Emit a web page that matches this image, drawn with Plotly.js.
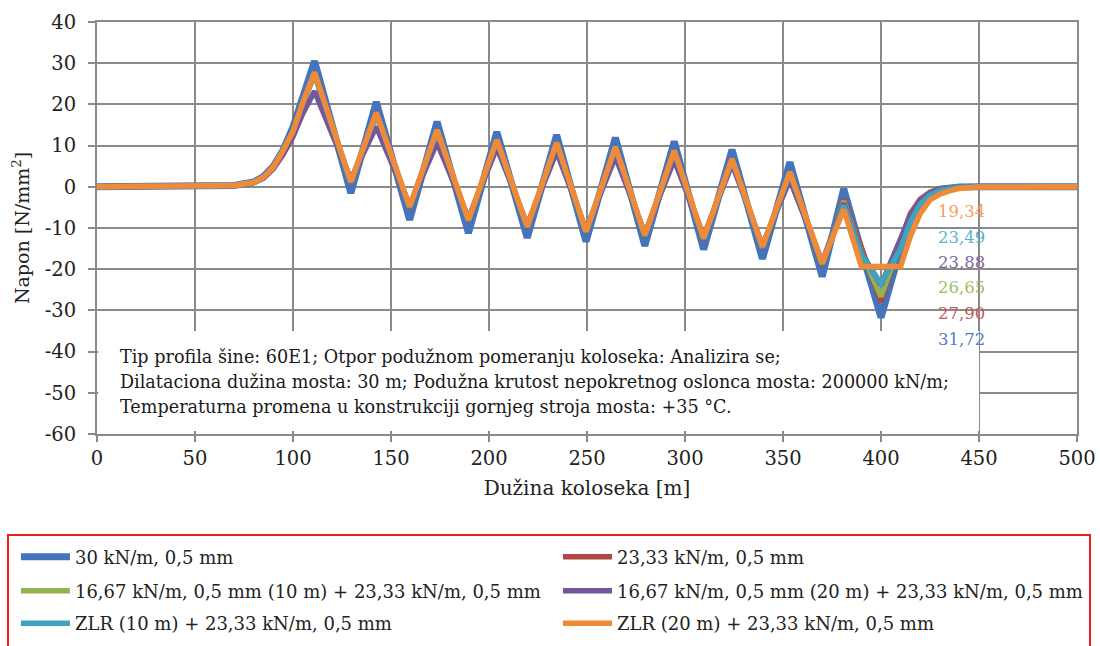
<!DOCTYPE html>
<html>
<head>
<meta charset="utf-8">
<script src="https://cdn.plot.ly/plotly-3.0.1.min.js"></script>
<style>html,body{margin:0;padding:0;background:#fff;}#chart{width:1100px;height:646px;}</style>
</head>
<body>
<div id="chart"></div>
<script>
// Shared longitudinal positions (m)
const xPos = [0, 60, 70, 80, 85, 90, 95, 100, 105, 111,
  129.5, 142.5, 159.5, 173.5, 189.5, 204, 219.5, 234.5, 249.5, 264.5,
  279.5, 294.5, 309.5, 324, 339.5, 353.5, 370, 381, 390, 400,
  410, 415, 420, 425, 430, 435, 440, 450, 500];

// Stress values (N/mm2) per series
const s30 = [0, 0, 0.3, 1.2, 2.5, 5, 9, 14.5, 22, 30.5,
  -1.5, 20.6, -8, 15.8, -11.2, 13.3, -12.4, 12.6, -13.3, 11.9,
  -14.3, 11, -15.2, 9, -17.5, 6, -21.8, -0.5, -15.5, -31.72,
  -15, -8, -3.8, -1.6, -0.6, -0.2, -0.05, 0, 0];
const s2333 = [0, 0, 0.3, 1.1, 2.3, 4.8, 8.7, 13.3, 20.2, 27.3,
  1.0, 17.6, -5.2, 13.4, -8.4, 11.0, -10.0, 10.2, -11.2, 9.3,
  -12.1, 8.3, -12.9, 6.5, -15.0, 3.3, -19.2, -3, -15.2, -27.90,
  -13, -6.5, -3, -1.3, -0.5, -0.2, -0.05, 0, 0];
const s1667_10 = [0, 0, 0.3, 1.1, 2.3, 4.8, 8.7, 13.3, 20.2, 27.2,
  1.3, 17.4, -4.9, 13.2, -8.1, 10.8, -9.7, 10.0, -10.9, 9.1,
  -11.8, 8.1, -12.5, 6.3, -14.6, 3.1, -18.8, -3.5, -15.8, -26.65,
  -13.5, -7, -3.3, -1.5, -0.6, -0.2, -0.05, 0, 0];
const s1667_20 = [0, 0, 0.3, 1.0, 2.1, 4.4, 7.9, 12.2, 17.8, 23.2,
  1.8, 14.6, -4.5, 10.7, -7.6, 9.5, -9.2, 8.5, -10.4, 7.3,
  -11.3, 6.5, -12, 5.5, -14.2, 1.7, -18.3, -4, -16, -23.88,
  -13, -7, -3.3, -1.5, -0.6, -0.2, -0.05, 0, 0];
const sZLR10 = [0, 0, 0.3, 1.1, 2.3, 4.8, 8.8, 13.4, 20.4, 27.6,
  1.1, 17.8, -5, 13.6, -8.2, 11.2, -9.8, 10.5, -11, 9.5,
  -11.9, 8.6, -12.6, 6.6, -14.8, 3.4, -18.7, -4.5, -16.5, -23.49,
  -15, -8.5, -4.2, -2, -0.9, -0.4, -0.1, 0, 0];
const sZLR20 = [0, 0, 0.3, 1.1, 2.3, 4.8, 8.8, 13.5, 20.5, 27.8,
  1.2, 18, -4.8, 13.8, -8, 11.4, -9.6, 10.7, -10.8, 9.7,
  -11.7, 8.8, -12.4, 6.8, -14.5, 3.6, -18.5, -5.5, -19.34, -19.34,
  -19.34, -12, -6.5, -3.2, -1.8, -1, -0.4, -0.05, 0];

const seriesNames = ['30 kN/m, 0,5 mm', '23,33 kN/m, 0,5 mm',
  '16,67 kN/m, 0,5 mm (10 m) + 23,33 kN/m, 0,5 mm',
  '16,67 kN/m, 0,5 mm (20 m) + 23,33 kN/m, 0,5 mm',
  'ZLR (10 m) + 23,33 kN/m, 0,5 mm', 'ZLR (20 m) + 23,33 kN/m, 0,5 mm'];
const seriesValues = [s30, s2333, s1667_10, s1667_20, sZLR10, sZLR20];
const seriesColors = ['#4474BB', '#B04744', '#93B150', '#73579A', '#3FA3BF', '#F08A36'];

// Minimum value labels (right side)
const minLabels = ['19,34', '23,49', '23,88', '26,65', '27,90', '31,72'];
const minLabelY = [-6.1, -12.4, -18.4, -24.5, -30.8, -37.1];
const minLabelColors = ['#F3A064', '#5FB2CB', '#7E67A3', '#9DBE62', '#C05A57', '#4F7FC0'];

const yTickVals = [-60, -50, -40, -30, -20, -10, 0, 10, 20, 30, 40];
const yTickText = ['-60', '-50', '-40', '-30', '-20', '-10', '0', '10', '20', '30', '40'];
const xTickVals = [0, 50, 100, 150, 200, 250, 300, 350, 400, 450, 500];
const xTickText = ['0', '50', '100', '150', '200', '250', '300', '350', '400', '450', '500'];

const infoLines = ['Tip profila šine: 60E1; Otpor podužnom pomeranju koloseka: Analizira se;',
  'Dilataciona dužina mosta: 30 m; Podužna krutost nepokretnog oslonca mosta: 200000 kN/m;',
  'Temperaturna promena u konstrukciji gornjeg stroja mosta: +35 °C.'];
const infoLineY = [-41.3, -47.4, -53.4];

const FONT = 'DejaVu Serif, Liberation Serif, serif';
const GRID = '#8a8a8a';

// legend slot positions (paper coords), one legend per entry
const legX = [-0.0827, 0.4704, -0.0827, 0.4704, -0.0827, 0.4704];
const legY = [-0.2985, -0.2985, -0.3810, -0.3810, -0.4600, -0.4600];

const traces = seriesValues.map((vals, i) => ({
  type: 'scatter', mode: 'lines', x: xPos, y: vals, name: seriesNames[i],
  legend: i === 0 ? 'legend' : 'legend' + (i + 1),
  line: {color: seriesColors[i], width: i === 0 ? 7 : 5.5, shape: 'linear'},
  hoverinfo: 'skip'
}));

const annotations = minLabels.map((t, i) => ({
  xref: 'x', yref: 'y', x: 428.3, y: minLabelY[i], text: t, showarrow: false,
  xanchor: 'left', yanchor: 'middle', font: {family: FONT, size: 16.5, color: minLabelColors[i]}
}));
infoLines.forEach((t, i) => annotations.push({
  xref: 'x', yref: 'y', x: 10.7, y: infoLineY[i], text: t, showarrow: false,
  xanchor: 'left', yanchor: 'middle', align: 'left',
  font: {family: FONT, size: 17.6, color: '#1a1a1a'}
}));

const layout = {
  width: 1100, height: 646,
  margin: {l: 97, r: 23, t: 22, b: 212, autoexpand: false},
  paper_bgcolor: '#ffffff', plot_bgcolor: '#ffffff',
  showlegend: true,
  xaxis: {
    range: [0, 500], tickvals: xTickVals, ticktext: xTickText,
    showgrid: true, gridcolor: GRID, gridwidth: 2, zeroline: false,
    showline: true, linecolor: GRID, linewidth: 2, mirror: true,
    ticks: 'outside', ticklen: 6, tickcolor: GRID, tickwidth: 2,
    tickfont: {family: FONT, size: 19.5, color: '#222'},
    title: {text: 'Dužina koloseka [m]', font: {family: FONT, size: 20, color: '#222'}, standoff: 12}
  },
  yaxis: {
    range: [-60, 40], tickvals: yTickVals, ticktext: yTickText,
    showgrid: true, gridcolor: GRID, gridwidth: 2, zeroline: false,
    showline: true, linecolor: GRID, linewidth: 2, mirror: true,
    ticks: 'outside', ticklen: 7, tickcolor: GRID, tickwidth: 2, ticklabelstandoff: 8,
    tickfont: {family: FONT, size: 19.5, color: '#222'},
    title: {text: 'Napon [N/mm<sup>2</sup>]', font: {family: FONT, size: 19, color: '#222'}, standoff: 10}
  },
  shapes: [{
    type: 'rect', xref: 'x', yref: 'y', x0: 0.6, x1: 450, y0: -59.3, y1: -35,
    fillcolor: '#ffffff', line: {width: 0}, layer: 'between'
  }, {
    type: 'rect', xref: 'paper', yref: 'paper', x0: -0.0908, x1: 1.0133, y0: -0.60, y1: -0.2451,
    fillcolor: 'rgba(0,0,0,0)', line: {color: '#E8201C', width: 2}, layer: 'above'
  }],
  annotations: annotations
};

seriesNames.forEach((n, i) => {
  const key = i === 0 ? 'legend' : 'legend' + (i + 1);
  layout[key] = {
    orientation: 'h', x: legX[i], xanchor: 'left', y: legY[i], yanchor: 'middle',
    borderwidth: 0, bgcolor: 'rgba(0,0,0,0)', itemwidth: 49,
    font: {family: FONT, size: 18, color: '#222'}
  };
});

Plotly.newPlot('chart', traces, layout, {displayModeBar: false, staticPlot: true});
</script>
</body>
</html>
